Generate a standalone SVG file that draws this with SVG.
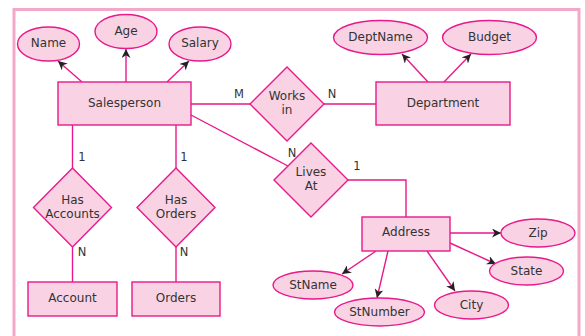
<svg xmlns="http://www.w3.org/2000/svg" width="585" height="336" viewBox="0 0 585 336">
<style>
.e{fill:#f9d3e4;stroke:#e8198b;stroke-width:1.4}
.t{font-family:"DejaVu Sans",Verdana,sans-serif;font-size:12px;fill:#333;text-anchor:middle;dominant-baseline:central}
.l{font-family:"DejaVu Sans",Verdana,sans-serif;font-size:11.5px;fill:#333;text-anchor:middle;dominant-baseline:central}
.c{stroke:#e8198b;stroke-width:1.4;fill:none}
.a{marker-end:url(#ar)}
</style>
<defs>
<marker id="ar" viewBox="0 0 10 10" refX="10" refY="5" markerWidth="9" markerHeight="9" markerUnits="userSpaceOnUse" orient="auto">
<path d="M0,0 L10,5 L0,10 L3,5 z" fill="#222"/>
</marker>
</defs>
<rect x="0" y="0" width="585" height="336" fill="#fff"/>
<rect x="14" y="9.5" width="565" height="345" fill="none" stroke="#f3a8ca" stroke-width="3"/>
<g id="connectors">
<line class="c a" x1="82" y1="82" x2="58" y2="61"/>
<line class="c a" x1="126" y1="82" x2="126" y2="49"/>
<line class="c a" x1="167" y1="82" x2="189" y2="61"/>
<line class="c a" x1="428" y1="82" x2="402" y2="54"/>
<line class="c a" x1="444" y1="82" x2="471" y2="54"/>
<line class="c" x1="191" y1="104" x2="250" y2="104"/>
<line class="c" x1="324" y1="104" x2="376" y2="104"/>
<line class="c" x1="191" y1="115" x2="288" y2="166"/>
<polyline class="c" points="348,180 406,180 406,217"/>
<line class="c" x1="72.5" y1="125" x2="72.5" y2="168"/>
<line class="c" x1="72.5" y1="247" x2="72.5" y2="282"/>
<line class="c" x1="176" y1="125" x2="176" y2="168"/>
<line class="c" x1="176" y1="247" x2="176" y2="282"/>
<line class="c a" x1="450" y1="233" x2="501" y2="233" stroke-width="2"/>
<line class="c a" x1="450" y1="243" x2="496" y2="264"/>
<line class="c a" x1="427" y1="251" x2="455" y2="291"/>
<line class="c a" x1="388" y1="251" x2="377" y2="298"/>
<line class="c a" x1="376" y1="251" x2="342" y2="274"/>
<text class="l" x="239" y="94">M</text>
<text class="l" x="332" y="94">N</text>
<text class="l" x="292" y="153">N</text>
<text class="l" x="357" y="166">1</text>
<text class="l" x="82" y="157">1</text>
<text class="l" x="82" y="252">N</text>
<text class="l" x="184" y="157">1</text>
<text class="l" x="184" y="252">N</text>
</g>
<g id="salesperson"><rect class="e" x="58" y="82" width="133" height="43"/><text class="t" x="124.5" y="103">Salesperson</text></g>
<g id="name"><ellipse class="e" cx="48.5" cy="44" rx="31" ry="17"/><text class="t" x="48.5" y="43">Name</text></g>
<g id="age"><ellipse class="e" cx="126" cy="31.5" rx="31" ry="17"/><text class="t" x="126" y="30.5">Age</text></g>
<g id="salary"><ellipse class="e" cx="200" cy="44" rx="31" ry="17"/><text class="t" x="200" y="43">Salary</text></g>
<g id="worksin"><polygon class="e" points="287,67 324,104 287,141 250,104"/><text class="t" x="287" y="96">Works</text><text class="t" x="287" y="109.5">in</text></g>
<g id="department"><rect class="e" x="376" y="82" width="134" height="43"/><text class="t" x="443" y="103">Department</text></g>
<g id="deptname"><ellipse class="e" cx="380.5" cy="37.5" rx="47" ry="17"/><text class="t" x="380.5" y="36.5">DeptName</text></g>
<g id="budget"><ellipse class="e" cx="489.5" cy="37.5" rx="47" ry="17"/><text class="t" x="489.5" y="36.5">Budget</text></g>
<g id="livesat"><polygon class="e" points="311,143 348,180 311,217 274,180"/><text class="t" x="311" y="172">Lives</text><text class="t" x="311" y="186">At</text></g>
<g id="hasaccounts"><polygon class="e" points="72.5,168 111.5,207.5 72.5,247 33.5,207.5"/><text class="t" x="72.5" y="200">Has</text><text class="t" x="72.5" y="213.5">Accounts</text></g>
<g id="hasorders"><polygon class="e" points="176,168 215,207.5 176,247 137,207.5"/><text class="t" x="176" y="200">Has</text><text class="t" x="176" y="213.5">Orders</text></g>
<g id="account"><rect class="e" x="28" y="282" width="89" height="34"/><text class="t" x="72.5" y="298">Account</text></g>
<g id="orders"><rect class="e" x="132" y="282" width="88" height="34"/><text class="t" x="176" y="298">Orders</text></g>
<g id="address"><rect class="e" x="362" y="217" width="88" height="34"/><text class="t" x="406" y="232">Address</text></g>
<g id="zip"><ellipse class="e" cx="538" cy="233" rx="37" ry="14"/><text class="t" x="538" y="232.5">Zip</text></g>
<g id="state"><ellipse class="e" cx="526.5" cy="271" rx="37" ry="14"/><text class="t" x="526.5" y="270.5">State</text></g>
<g id="city"><ellipse class="e" cx="471.5" cy="305" rx="37" ry="14"/><text class="t" x="471.5" y="304.5">City</text></g>
<g id="stnumber"><ellipse class="e" cx="379.5" cy="312" rx="45" ry="14"/><text class="t" x="379.5" y="311.5">StNumber</text></g>
<g id="stname"><ellipse class="e" cx="313" cy="285" rx="40" ry="14"/><text class="t" x="313" y="284.5">StName</text></g>
</svg>
